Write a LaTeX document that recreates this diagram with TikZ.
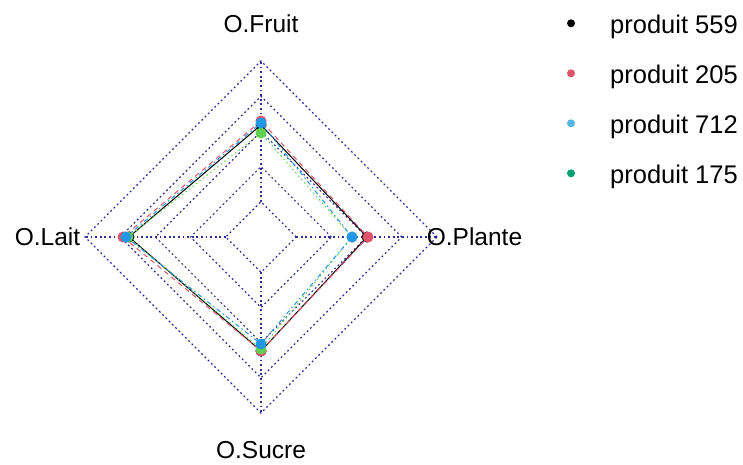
\documentclass[tikz,border=0pt]{standalone}
\usepackage{fontspec}
\setmainfont{Liberation Sans}
\usepackage{tikz}
\usetikzlibrary{calc}
\definecolor{rred}{HTML}{DF536B}
\definecolor{rgreen}{HTML}{61D04F}
\definecolor{rblue}{HTML}{2297E6}
\definecolor{legblue}{HTML}{56B4E9}
\definecolor{leggreen}{HTML}{009E73}
\definecolor{gridnavy}{RGB}{45,45,150}
\tikzset{
    % dotted web of the chart
    web/.style={gridnavy, line width=1.2pt, dash pattern=on 1.8pt off 2.8pt},
    % line types of the four series
    serA/.style={solid},
    serB/.style={dash pattern=on 5pt off 4pt},
    serC/.style={dash pattern=on 1.5pt off 3pt},
    serD/.style={dash pattern=on 1.5pt off 3pt on 4.5pt off 3pt},
    vertex/.style={circle, fill=#1, inner sep=0pt, minimum size=11pt},
    legdot/.style={circle, fill=#1, inner sep=0pt, minimum size=8pt},
    axislabel/.style={font=\fontsize{24.5}{29}\selectfont, inner sep=0pt},
    legtext/.style={font=\fontsize{25.5}{30}\selectfont, anchor=base west, inner sep=0pt}
}
\begin{document}
\begin{tikzpicture}[x=1pt, y=1pt]
    \useasboundingbox (-261,-227) rectangle (482,237);
    % web
    \foreach \k in {1,...,5} {
        \draw[web] (0:35.2*\k) -- (90:35.2*\k) -- (180:35.2*\k) -- (270:35.2*\k) -- cycle;
    }
    \foreach \a/\n/\t in {90/fruit/O.Fruit, 180/lait/O.Lait, 270/sucre/O.Sucre, 0/plante/O.Plante} {
        \coordinate (in-\n) at (\a:35.2);
        \coordinate (out-\n) at (\a:176);
        \draw[web] (in-\n) -- (out-\n);
        \node[axislabel] (lab-\n) at (\a:213.5) {\t};
    }
    % series
    \foreach \id/\col/\lty/\f/\l/\s/\p in {559/black/serA/112/132/114/106,
                                           205/rred/serB/116/138/114/107,
                                           712/rgreen/serC/104/133/112/91,
                                           175/rblue/serD/114/135/107/91} {
        \coordinate (\id-f) at (90:\f);
        \coordinate (\id-l) at (180:\l);
        \coordinate (\id-s) at (270:\s);
        \coordinate (\id-p) at (0:\p);
        \draw[\col, \lty, line width=1pt] (\id-f) -- (\id-l) -- (\id-s) -- (\id-p) -- cycle;
        \foreach \v in {f, l, s, p} {
            \node[vertex=\col] (pt-\id-\v) at (\id-\v) {};
        }
    }
    % legend
    \foreach \i/\txt/\col in {1/559/black, 2/205/rred, 3/712/legblue, 4/175/leggreen} {
        \node[legdot=\col] (leg-\i) at (310, 263.7-50*\i) {};
        \node[legtext] (legtxt-\i) at ($(leg-\i)+(39,-10)$) {produit \txt};
    }
\end{tikzpicture}
\end{document}
